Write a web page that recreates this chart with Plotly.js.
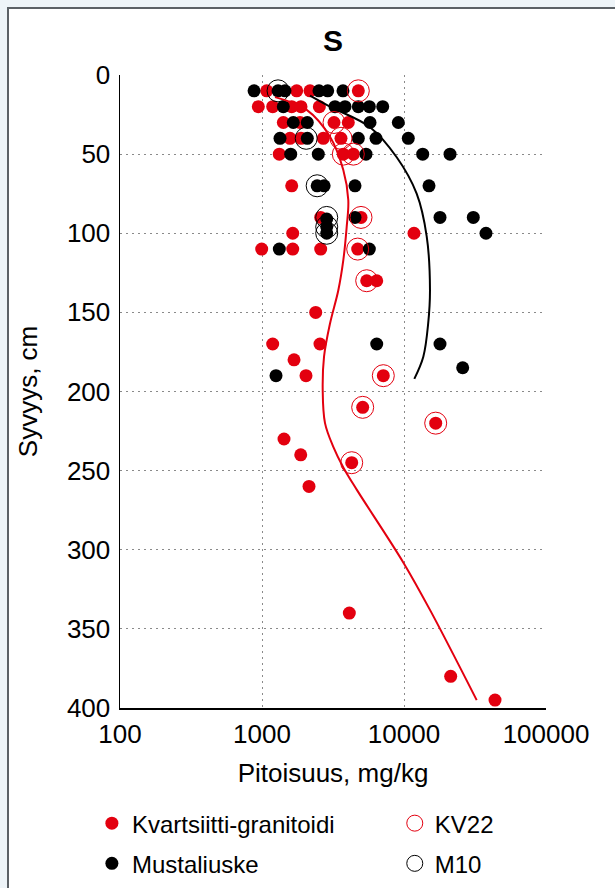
<!DOCTYPE html>
<html>
<head>
<meta charset="utf-8">
<script src="https://cdn.plot.ly/plotly-3.0.1.min.js"></script>
<style>
  html, body { margin: 0; padding: 0; background: #eef4f8; width: 615px; height: 888px; overflow: hidden; }
  #frame { position: absolute; left: 7px; top: 7px; width: 608px; height: 881px; box-sizing: border-box;
           border-left: 2px solid #5c6166; border-top: 2px solid #5c6166; background: #fff; }
  #chart { width: 606px; height: 879px; }
</style>
</head>
<body>
<div id="frame"><div id="chart"></div></div>
<script>
// Kvartsiitti-granitoidi (red filled)
const kvX = [1079, 1755, 2178, 4768,
             942, 1189, 1619, 1882, 2534,
             1413, 1852, 3214, 4052,
             1575, 1882, 2702, 3600,
             1324, 3738, 4395,
             1619,
             2590, 4980,
             1646, 11760,
             995, 1646, 2590, 4720,
             5462, 6425,
             2389,
             1189, 2560,
             1681,
             2041, 7150,
             5117, 16720, 1429, 1874, 4283, 2143, 4120, 21320, 43750];
const kvY = [10, 10, 10, 10,
             20, 20, 20, 20, 20,
             30, 30, 30, 30,
             40, 40, 40, 40,
             50, 50, 50,
             70,
             90, 90,
             100, 100,
             110, 110, 110, 110,
             130, 130,
             150,
             170, 170,
             180,
             190, 190,
             210, 220, 230, 240, 245, 260, 340, 380, 395];

// Mustaliuske (black filled)
const muX = [879, 1297, 1452, 2519, 2902, 3718,
             1413, 3266, 3843, 4768, 5700, 7079,
             1661, 2085, 5764, 9120,
             1339, 2085, 4768, 6353, 10720,
             1593, 2491, 5399, 13540, 21090,
             2446, 2738, 4518, 15000,
             2856, 4518, 17930, 30760,
             2856, 2856, 37790,
             1324, 5700,
             6425, 17930,
             25900,
             1255];
const muY = [10, 10, 10, 10, 10, 10,
             20, 20, 20, 20, 20, 20,
             30, 30, 30, 30,
             40, 40, 40, 40, 40,
             50, 50, 50, 50, 50,
             70, 70, 70, 70,
             91, 90, 90, 90,
             96, 100, 100,
             110, 110,
             170, 170,
             185,
             190];

// KV22 site (red rings)
const kv22X = [4768, 3214, 3600, 3738, 4395, 4980, 4720, 5462, 7150, 5117, 16720, 4283];
const kv22Y = [10, 30, 40, 50, 50, 90, 110, 130, 190, 210, 220, 245];

// M10 site (black rings)
const m10X = [1297, 2048, 2446, 2856, 2856, 2856];
const m10Y = [10, 40, 70, 90, 96, 100];

// Trend curves
const redCurveX = [1235, 2064, 3013, 3738, 4052, 3948, 3738, 3447, 3013, 2734, 2676, 2778, 3178, 3738, 4645, 9886, 15240, 32500];
const redCurveY = [14, 22, 39, 60, 79, 96, 117, 136, 157, 178, 199, 220, 235, 248, 262, 308, 338, 395];
const blackCurveX = [2178, 3013, 5764, 8886, 12280, 14450, 15240, 14800, 13680, 11820];
const blackCurveY = [13, 20, 33, 52, 75, 102, 136, 157, 178, 192];

const RED = '#e3000f';
const FONT = 'Liberation Sans, Arial, sans-serif';

const traces = [
  { x: kvX, y: kvY, type: 'scatter', mode: 'markers', name: 'Kvartsiitti-granitoidi',
    marker: { color: RED, size: 13 }, legend: 'legend', legendgroup: 'a' },
  { x: muX, y: muY, type: 'scatter', mode: 'markers', name: 'Mustaliuske',
    marker: { color: '#000', size: 13 }, legend: 'legend', legendgroup: 'b' },
  { x: kv22X, y: kv22Y, type: 'scatter', mode: 'markers', name: 'KV22',
    marker: { symbol: 'circle-open', color: RED, size: 22, line: { width: 1, color: RED } }, legend: 'legend2', legendgroup: 'c' },
  { x: m10X, y: m10Y, type: 'scatter', mode: 'markers', name: 'M10',
    marker: { symbol: 'circle-open', color: '#000', size: 22, line: { width: 1, color: '#000' } }, legend: 'legend2', legendgroup: 'd' },
  { x: redCurveX, y: redCurveY, type: 'scatter', mode: 'lines', showlegend: false, hoverinfo: 'skip',
    line: { color: RED, width: 2, shape: 'spline', smoothing: 1 } },
  { x: blackCurveX, y: blackCurveY, type: 'scatter', mode: 'lines', showlegend: false, hoverinfo: 'skip',
    line: { color: '#000', width: 2, shape: 'spline', smoothing: 1 } }
];

const layout = {
  width: 606, height: 879,
  margin: { l: 111, r: 69, t: 65.5, b: 180, autoexpand: false },
  paper_bgcolor: '#fff', plot_bgcolor: '#fff',
  font: { family: FONT, size: 24, color: '#000' },
  title: { text: '<b>S</b>', font: { family: FONT, size: 30, color: '#000' },
           x: 0.5, xref: 'paper', y: 1 - 31 / 879, yref: 'container', yanchor: 'middle' },
  xaxis: {
    type: 'log', range: [2, 5],
    tickvals: [100, 1000, 10000, 100000], ticktext: ['100', '1000', '10000', '100000'],
    ticks: '', ticklabelstandoff: 2,
    showline: true, linecolor: '#000', linewidth: 1.5,
    showgrid: true, gridcolor: '#8a8a8a', gridwidth: 1, griddash: '2px,4px',
    zeroline: false,
    tickfont: { family: FONT, size: 26, color: '#000' },
    title: { text: 'Pitoisuus, mg/kg', font: { family: FONT, size: 26, color: '#000' }, standoff: 16 }
  },
  yaxis: {
    range: [400, 0],
    tickvals: [0, 50, 100, 150, 200, 250, 300, 350, 400],
    ticks: '', ticklabelstandoff: 3,
    showline: true, linecolor: '#000', linewidth: 1.5,
    showgrid: true, gridcolor: '#8a8a8a', gridwidth: 1, griddash: '2px,4px',
    zeroline: false,
    tickfont: { family: FONT, size: 26, color: '#000' },
    title: { text: 'Syvyys, cm', font: { family: FONT, size: 26, color: '#000' }, standoff: 22 }
  },
  legend: {
    x: -0.066, xanchor: 'left', y: -0.147, yanchor: 'top', orientation: 'v',
    traceorder: 'grouped', tracegroupgap: 6,
    font: { family: FONT, size: 24, color: '#000' }, bgcolor: 'rgba(0,0,0,0)', itemsizing: 'trace'
  },
  legend2: {
    x: 0.645, xanchor: 'left', y: -0.147, yanchor: 'top', orientation: 'v',
    traceorder: 'grouped', tracegroupgap: 6,
    font: { family: FONT, size: 24, color: '#000' }, bgcolor: 'rgba(0,0,0,0)', itemsizing: 'trace'
  },
  showlegend: true
};

Plotly.newPlot('chart', traces, layout, { displayModeBar: false, staticPlot: true });
</script>
</body>
</html>
